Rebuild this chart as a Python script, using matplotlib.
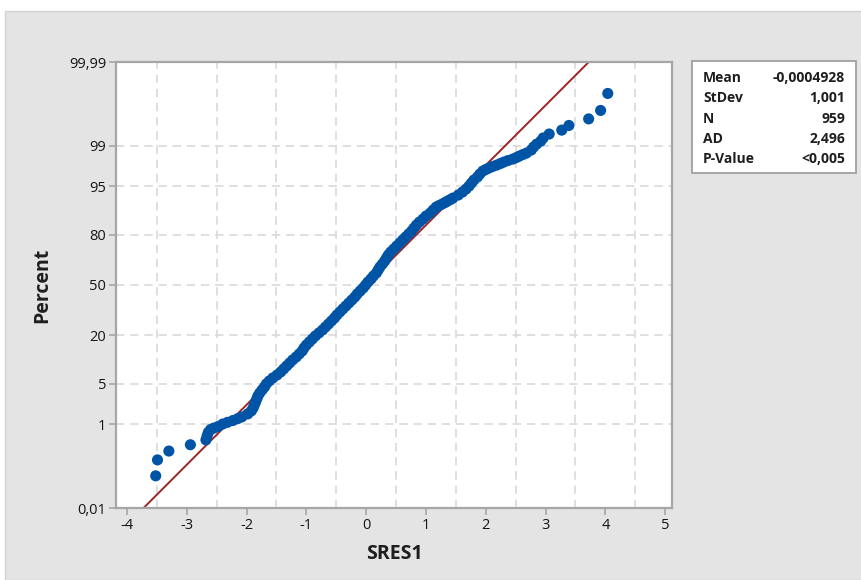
import numpy as np
import matplotlib
matplotlib.use('Agg')
import matplotlib.pyplot as plt
from matplotlib.patches import Rectangle
from statistics import NormalDist

# standardized residuals, with their plotted percent
sres = [-3.52, -3.49, -3.30, -2.94, -2.68, -2.66, -2.64, -2.60, -2.55, -2.48,
        -2.40, -2.32, -2.23, -2.15, -2.08, -1.98, -1.92, -1.89, -1.87, -1.85,
        -1.83, -1.81, -1.78, -1.74, -1.70, -1.67, -1.62, -1.56, -1.49, -1.43,
        -1.38, -1.33, -1.28, -1.23, -1.17, -1.12, -1.07, -1.04, -1.00, -0.95,
        -0.90, -0.85, -0.79, -0.73, -0.68, -0.63, -0.58, -0.53, -0.49, -0.44,
        -0.39, -0.34, -0.29, -0.24, -0.19, -0.15, -0.10, -0.05, -0.01, 0.03,
        0.08, 0.12, 0.17, 0.20, 0.23, 0.27, 0.31, 0.34, 0.37, 0.41,
        0.46, 0.51, 0.56, 0.61, 0.66, 0.71, 0.76, 0.80, 0.84, 0.89,
        0.95, 1.00, 1.07, 1.12, 1.17, 1.22, 1.27, 1.32, 1.36, 1.41,
        1.45, 1.54, 1.61, 1.67, 1.72, 1.76, 1.80, 1.86, 1.90, 1.95,
        2.00, 2.05, 2.11, 2.18, 2.24, 2.30, 2.37, 2.45, 2.51, 2.56,
        2.62, 2.68, 2.76, 2.80, 2.85, 2.92, 2.96, 3.06, 3.27, 3.39,
        3.72, 3.92, 4.04]
percent = [0.073, 0.177, 0.281, 0.386, 0.49, 0.595, 0.70, 0.80, 0.85, 0.91,
           1.02, 1.10, 1.19, 1.29, 1.39, 1.58, 1.79, 2.02, 2.28, 2.56,
           2.87, 3.22, 3.59, 4.01, 4.46, 4.95, 5.48, 6.06, 6.68, 7.35,
           8.08, 8.85, 9.68, 10.56, 11.51, 12.51, 13.57, 14.69, 15.87, 17.11,
           18.41, 19.77, 21.19, 22.66, 24.20, 25.78, 27.43, 29.12, 30.85, 32.64,
           34.46, 36.32, 38.21, 40.13, 42.07, 44.04, 46.02, 48.01, 50.0, 51.99,
           53.98, 55.96, 57.93, 59.87, 61.79, 63.68, 65.54, 67.36, 69.15, 70.88,
           72.57, 74.22, 75.80, 77.34, 78.81, 80.23, 81.59, 82.89, 84.13, 85.31,
           86.43, 87.49, 88.49, 89.44, 90.32, 90.75, 91.15, 91.55, 91.92, 92.30,
           92.65, 93.32, 93.94, 94.52, 95.05, 95.54, 95.99, 96.41, 96.78, 97.13,
           97.30, 97.44, 97.58, 97.72, 97.85, 97.98, 98.10, 98.21, 98.32, 98.42,
           98.52, 98.61, 98.78, 98.93, 99.06, 99.18, 99.29, 99.41, 99.51, 99.61,
           99.72, 99.82, 99.93]

pct_ticks = [0.01, 1, 5, 20, 50, 80, 95, 99, 99.99]
pct_labels = ['0,01', '1', '5', '20', '50', '80', '95', '99', '99,99']
x_ticks = [-4, -3, -2, -1, 0, 1, 2, 3, 4, 5]
x_grid = [-4, -3.5, -3, -2.5, -2, -1.5, -1, -0.5, 0, 0.5, 1, 1.5, 2, 2.5, 3, 3.5, 4, 4.5, 5]

mean_val = -0.0004928
stdev_val = 1.001
stat_names = ['Mean', 'StDev', 'N', 'AD', 'P-Value']
stat_values = ['-0,0004928', '1,001', '959', '2,496', '<0,005']

plt.rcParams['font.family'] = ['Open Sans', 'DejaVu Sans']

nd = NormalDist()


def to_z(p):
    p = np.clip(np.asarray(p, dtype=float), 1e-7, 100 - 1e-7) / 100.0
    if p.size == 0:
        return p
    return np.vectorize(nd.inv_cdf, otypes=[float])(p)


def from_z(z):
    z = np.asarray(z, dtype=float)
    if z.size == 0:
        return z
    return np.vectorize(nd.cdf, otypes=[float])(z) * 100.0


fig = plt.figure(figsize=(8.62, 5.80), dpi=100)
fig.patch.set_facecolor('white')
# grey panel behind everything
fig.patches.append(Rectangle((5 / 862, 0), 1, 1 - 11 / 580, transform=fig.transFigure,
                             facecolor='#e4e4e4', edgecolor='#d2d2d2', lw=1.0, zorder=-10))

ax = fig.add_axes([116 / 862, 72 / 580, 556 / 862, 446 / 580])
ax.set_zorder(2)
ax.set_facecolor('white')
ax.set_yscale('function', functions=(to_z, from_z))
ax.set_xlim(-4.184, 5.114)
ax.set_ylim(0.01, 99.99)

ax.set_yticks(pct_ticks)
ax.set_yticklabels(pct_labels)
ax.yaxis.set_minor_locator(matplotlib.ticker.NullLocator())
ax.set_xticks(x_ticks)
ax.set_xticklabels([str(t) for t in x_ticks])
ax.set_xticks(x_grid, minor=True)

ax.grid(True, which='major', axis='y', color='#d9d9d9', linestyle=(0, (5, 3.5)), lw=1.2)
ax.grid(True, which='minor', axis='x', color='#d9d9d9', linestyle=(0, (5, 3.5)), lw=1.2)
ax.set_axisbelow(True)

for s in ax.spines.values():
    s.set_color('#a6a6a6')
    s.set_linewidth(1.6)
ax.tick_params(which='major', length=5, width=1.2, color='#a6a6a6',
               labelsize=10.5, labelcolor='#151515', pad=2)
ax.tick_params(which='minor', length=0)

# fitted normal line
z_ends = to_z([0.01, 99.99])
ax.plot(mean_val + stdev_val * z_ends, [0.01, 99.99], color='#a02424', lw=1.4, zorder=2)

ax.scatter(sres, percent, s=64, color='#0054a6', edgecolors='none', zorder=3, clip_on=False)

ax.set_xlabel('SRES1', fontsize=14, fontweight='bold', color='#1e1e1e', labelpad=8)
ax.set_ylabel('Percent', fontsize=14, fontweight='bold', color='#1e1e1e', labelpad=12)

# statistics box
fig.patches.append(Rectangle((692 / 862, 1 - 173 / 580), 164 / 862, 112 / 580,
                             transform=fig.transFigure, facecolor='white',
                             edgecolor='#a6a6a6', lw=1.4, zorder=1))
row_y = [77.7, 98.3, 118.7, 139, 159]
for name, val, y in zip(stat_names, stat_values, row_y):
    fig.text(703 / 862, 1 - y / 580, name, ha='left', va='center', fontsize=10,
             fontweight='bold', color='#1e1e1e', zorder=3)
    fig.text(845 / 862, 1 - y / 580, val, ha='right', va='center', fontsize=10,
             fontweight='bold', color='#1e1e1e', zorder=3)

fig.savefig('out.png', dpi=100)
